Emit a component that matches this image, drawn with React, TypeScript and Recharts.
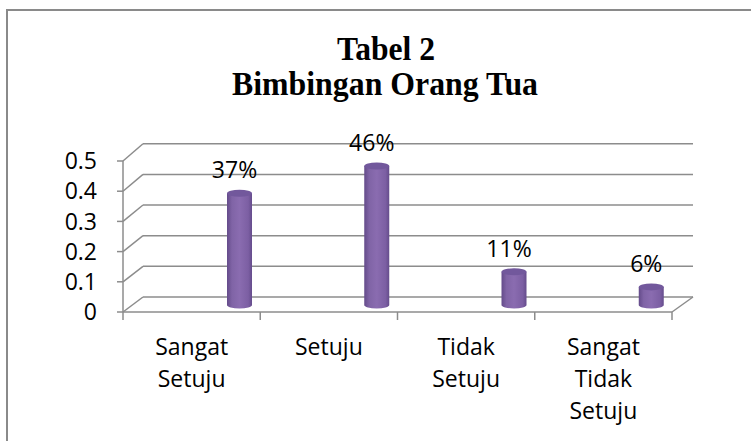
import React from "react";
import { BarChart, Bar, XAxis, YAxis, CartesianGrid, LabelList } from "recharts";

// Tabel 2 - Bimbingan Orang Tua (Excel style 3D cylinder columns)

const categories = ["Sangat Setuju", "Setuju", "Tidak Setuju", "Sangat Tidak Setuju"];
const values = [0.37, 0.46, 0.11, 0.06];
const valueLabels = ["37%", "46%", "11%", "6%"];
const yTicks = [0, 0.1, 0.2, 0.3, 0.4, 0.5];

const data = categories.map((c, i) => ({ name: c, value: values[i], label: valueLabels[i] }));

const FONT = "'Open Sans', 'Noto Sans', sans-serif";
const SERIF = "'Liberation Serif', 'Times New Roman', serif";
const GRID = "#8c8c8c";
const PLOT_W = 549;
// depth offsets for the fake 3D walls / columns
const WALL_DX = 20;
const WALL_DY = -15;
const BAR_DX = 48;
const BAR_DY = -7;

function WallLine(props: any) {
  const { x1, x2, y1, y, height } = props;
  const depth = y + height - y1;
  const yb = y1 + WALL_DY - depth * 0.015;
  const isFloor = Math.abs(y1 - (y + height)) < 0.5;
  return (
    <g>
      <line x1={x1} y1={y1} x2={x1 + WALL_DX} y2={yb} stroke={GRID} strokeWidth={1.5} />
      <line x1={x1 + WALL_DX} y1={yb} x2={x2 + WALL_DX + 1} y2={yb} stroke={GRID} strokeWidth={1.5} />
      {isFloor && (
        <line x1={x2} y1={y1} x2={x2 + WALL_DX + 1} y2={yb} stroke={GRID} strokeWidth={1.5} />
      )}
    </g>
  );
}

function Cylinder(props: any) {
  const { x, y, width, height, index } = props;
  const left = x + BAR_DX;
  const right = left + width;
  const cx = left + width / 2;
  const top = y + BAR_DY;
  const bottom = y + height + BAR_DY;
  const rx = width / 2;
  const ry = 3.5;
  const id = `cyl-${index}`;
  return (
    <g>
      <defs>
        <linearGradient id={id} x1="0" y1="0" x2="1" y2="0">
          <stop offset="0%" stopColor="#644b8a" />
          <stop offset="20%" stopColor="#8064a6" />
          <stop offset="50%" stopColor="#8a6cb0" />
          <stop offset="85%" stopColor="#7c5fa3" />
          <stop offset="100%" stopColor="#654c8c" />
        </linearGradient>
      </defs>
      <path
        d={`M${left},${top} L${left},${bottom} A${rx},${ry} 0 0 0 ${right},${bottom} L${right},${top} Z`}
        fill={`url(#${id})`}
      />
      <ellipse cx={cx} cy={top} rx={rx} ry={ry} fill="#72589c" />
    </g>
  );
}

function ValueLabel(props: any) {
  const { x, y, width, value } = props;
  return (
    <text
      x={x + BAR_DX + width / 2 - 5}
      y={y + BAR_DY - 15}
      textAnchor="middle"
      fontFamily={FONT}
      fontSize={23}
      fill="#000"
    >
      {value}
    </text>
  );
}

function CategoryTick(props: any) {
  const { x, y, payload, index } = props;
  const half = PLOT_W / categories.length / 2;
  const words = String(payload.value).split(" ");
  return (
    <g>
      <line x1={x - half} y1={y} x2={x - half} y2={y + 8} stroke={GRID} strokeWidth={1.5} />
      {index === categories.length - 1 && (
        <line x1={x + half} y1={y} x2={x + half} y2={y + 8} stroke={GRID} strokeWidth={1.5} />
      )}
      {words.map((w, i) => (
        <text
          key={i}
          x={x}
          y={y + 43 + i * 32}
          textAnchor="middle"
          fontFamily={FONT}
          fontSize={23}
          fill="#000"
        >
          {w}
        </text>
      ))}
    </g>
  );
}

export default function App() {
  return (
    <div
      style={{
        position: "absolute",
        left: 0,
        top: 0,
        width: 751,
        height: 441,
        overflow: "hidden",
        background: "#fff",
      }}
    >
      <div
        style={{
          position: "absolute",
          left: 6,
          top: 9,
          width: 780,
          height: 480,
          border: "2px solid #8a8a8a",
        }}
      />
      <svg width={751} height={441} style={{ position: "absolute", left: 0, top: 0 }}>
        <text
          x={337}
          y={60}
          fontFamily={SERIF}
          fontWeight="bold"
          fontSize={34}
          textLength={98}
          lengthAdjust="spacingAndGlyphs"
        >
          Tabel 2
        </text>
        <text
          x={232}
          y={95}
          fontFamily={SERIF}
          fontWeight="bold"
          fontSize={34}
          textLength={306}
          lengthAdjust="spacingAndGlyphs"
        >
          Bimbingan Orang Tua
        </text>
      </svg>
      <div style={{ position: "absolute", left: 0, top: 0 }}>
        <BarChart
          width={751}
          height={441}
          data={data}
          margin={{ top: 161, right: 79, bottom: 99, left: 63 }}
        >
          <CartesianGrid vertical={false} horizontal={(p: any) => <WallLine {...p} />} />
          <XAxis
            dataKey="name"
            height={30}
            axisLine={{ stroke: GRID, strokeWidth: 1.5 }}
            tickLine={false}
            tickSize={0}
            tickMargin={0}
            interval={0}
            tick={<CategoryTick />}
          />
          <YAxis
            width={60}
            domain={[0, 0.5]}
            ticks={yTicks}
            interval={0}
            tickFormatter={(v: number) => String(v)}
            axisLine={{ stroke: GRID, strokeWidth: 1.5 }}
            tickLine={{ stroke: GRID, strokeWidth: 1.5 }}
            tickSize={6}
            tickMargin={20}
            tick={{ fill: "#000", fontSize: 23, fontFamily: FONT }}
          />
          <Bar dataKey="value" barSize={25} shape={<Cylinder />} isAnimationActive={false}>
            <LabelList dataKey="label" content={<ValueLabel />} />
          </Bar>
        </BarChart>
      </div>
    </div>
  );
}
